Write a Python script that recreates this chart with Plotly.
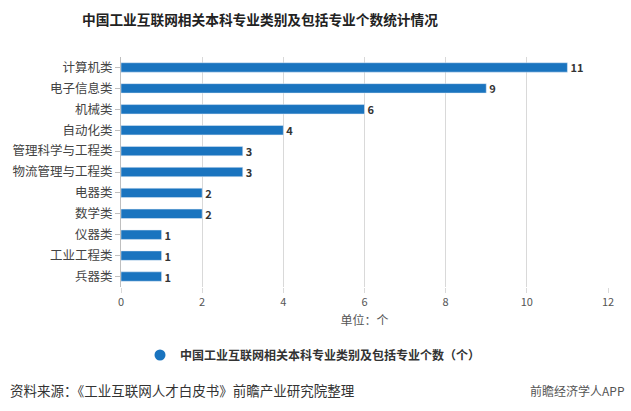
import plotly.graph_objects as go

categories = ["计算机类", "电子信息类", "机械类", "自动化类", "管理科学与工程类", "物流管理与工程类",
              "电器类", "数学类", "仪器类", "工业工程类", "兵器类"]
values = [11, 9, 6, 4, 3, 3, 2, 2, 1, 1, 1]
x_ticks = [0, 2, 4, 6, 8, 10, 12]
series_name = "中国工业互联网相关本科专业类别及包括专业个数（个）"
title_text = "中国工业互联网相关本科专业类别及包括专业个数统计情况"
source_text = "资料来源：《工业互联网人才白皮书》前瞻产业研究院整理"
brand_text = "前瞻经济学人APP"

FONT = "Noto Sans CJK SC"
BLUE = "#1a74bf"
PLOT_H = 230.0
PLOT_W = 487.0

fig = go.Figure()
fig.add_trace(go.Bar(
    y=categories, x=values, orientation="h", name=series_name,
    marker=dict(color=BLUE), width=0.45,
    text=[str(v) for v in values], textposition="outside", constraintext="none",
    textfont=dict(family=FONT, size=11, color="#333333", weight="bold"),
    cliponaxis=False, showlegend=False,
))
fig.add_trace(go.Scatter(
    x=[None], y=[None], mode="markers", name=series_name,
    marker=dict(symbol="circle", size=11, color=BLUE), showlegend=True,
))

fig.update_layout(
    width=631, height=411,
    margin=dict(l=121, r=23, t=57, b=124),
    plot_bgcolor="white", paper_bgcolor="white",
    font=dict(family=FONT, size=11, color="#444444"),
    title=dict(text=title_text, xref="container", x=260 / 631, xanchor="center",
               yref="container", y=1 - 20 / 411, yanchor="middle",
               font=dict(family=FONT, size=13.7, color="#222222", weight="bold")),
    xaxis=dict(range=[0, 12], tickvals=x_ticks, showgrid=True, gridcolor="#d9d9d9",
               gridwidth=1, zeroline=False, showline=False,
               ticks="outside", ticklen=5, tickcolor="#d9d9d9",
               tickfont=dict(size=11, color="#555555"),
               title=dict(text="单位：个", font=dict(size=12, color="#555555"), standoff=8)),
    yaxis=dict(categoryorder="array", categoryarray=categories[::-1], showline=True,
               linecolor="#bfbfbf", linewidth=1, ticks="outside", ticklen=5,
               tickcolor="#bfbfbf", showgrid=False, automargin=False,
               tickfont=dict(size=12.5, color="#444444")),
    legend=dict(orientation="h", x=(313 - 121) / PLOT_W, xanchor="center",
                y=(287 - 355) / PLOT_H, yanchor="middle",
                font=dict(size=12, color="#333333", weight="bold"), itemwidth=30),
    bargap=0.55,
)

fig.add_annotation(text=source_text, xref="paper", yref="paper", x=-113 / PLOT_W, xanchor="left",
                   y=(287 - 390) / PLOT_H, yanchor="middle", showarrow=False,
                   font=dict(family=FONT, size=13.5, color="#333333"))
fig.add_annotation(text=brand_text, xref="paper", yref="paper", x=1 + 19 / PLOT_W, xanchor="right",
                   y=(287 - 390) / PLOT_H, yanchor="middle", showarrow=False,
                   font=dict(family=FONT, size=12, color="#555555"))

fig.write_html("out.html", config={"displayModeBar": False},
               post_script="document.body.style.margin='0';")
